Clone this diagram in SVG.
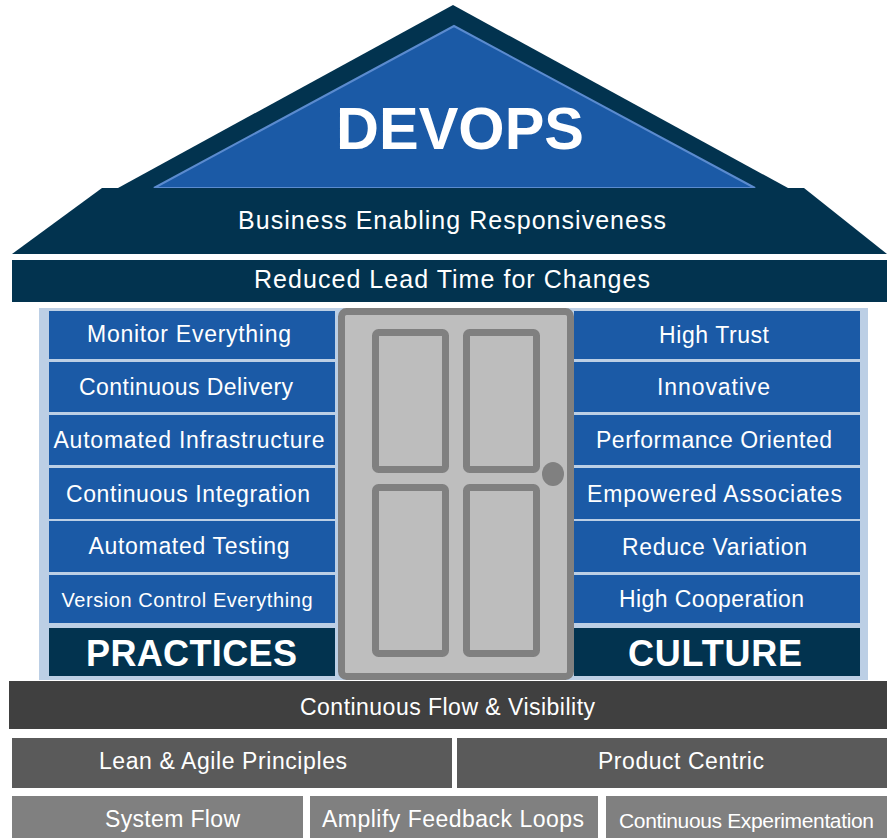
<svg xmlns="http://www.w3.org/2000/svg" width="887" height="838" viewBox="0 0 887 838">
<style>
text{font-family:"Liberation Sans",Arial,sans-serif;fill:#fff;text-anchor:middle}
.navy{fill:#02334f}
.blue{fill:#1b5aa6}
.t{font-size:23px}
.b{font-weight:bold}
.pan{fill:#bdbdbd;stroke:#808080;stroke-width:7}
.g1{fill:#404040}.g2{fill:#5a5a5a}.g3{fill:#808080}
</style>
<rect width="887" height="838" fill="#fff"/>
<g id="roof">
<polygon class="navy" points="453,5 118,188 788,188"/>
<polygon points="454,26 154,188 755,188" fill="#1b5aa6" stroke="#5b8bcf" stroke-width="2"/>
<text class="b" x="460" y="149" font-size="60" textLength="248" lengthAdjust="spacingAndGlyphs">DEVOPS</text>
</g>
<g id="business">
<polygon class="navy" points="102,188 804,188 887,254 12,254"/>
<text x="452" y="229" font-size="25" textLength="428">Business Enabling Responsiveness</text>
</g>
<g id="leadtime">
<rect class="navy" x="12" y="260" width="875" height="42"/>
<text x="452" y="288" font-size="25" textLength="396">Reduced Lead Time for Changes</text>
</g>
<rect id="panel" x="39" y="308" width="829" height="372" fill="#bccfe5"/>
<g id="practices">
<rect class="blue" x="49" y="311" width="286" height="48"/>
<text class="t" x="189" y="342" textLength="204">Monitor Everything</text>
<rect class="blue" x="49" y="362" width="286" height="50"/>
<text class="t" x="186" y="395" textLength="214">Continuous Delivery</text>
<rect class="blue" x="49" y="415" width="286" height="50"/>
<text class="t" x="189" y="448" textLength="271">Automated Infrastructure</text>
<rect class="blue" x="49" y="468" width="286" height="51"/>
<text class="t" x="188" y="502" textLength="244">Continuous Integration</text>
<rect class="blue" x="49" y="521" width="286" height="51"/>
<text class="t" x="189" y="554" textLength="201">Automated Testing</text>
<rect class="blue" x="49" y="575" width="286" height="48"/>
<text x="187" y="607" font-size="20" textLength="251">Version  Control  Everything</text>
<rect class="navy" x="49" y="628" width="286" height="48"/>
<text class="b" x="191.5" y="666" font-size="36" textLength="211">PRACTICES</text>
</g>
<g id="culture">
<rect class="blue" x="574" y="311" width="286" height="48"/>
<text class="t" x="714" y="343" textLength="110">High Trust</text>
<rect class="blue" x="574" y="362" width="286" height="50"/>
<text class="t" x="713.5" y="395" textLength="113">Innovative</text>
<rect class="blue" x="574" y="415" width="286" height="50"/>
<text class="t" x="714" y="448" textLength="236">Performance Oriented</text>
<rect class="blue" x="574" y="468" width="286" height="51"/>
<text class="t" x="714.5" y="502" textLength="255">Empowered  Associates</text>
<rect class="blue" x="574" y="521" width="286" height="51"/>
<text class="t" x="714.5" y="555" textLength="185">Reduce Variation</text>
<rect class="blue" x="574" y="575" width="286" height="48"/>
<text class="t" x="711.5" y="607" textLength="185">High Cooperation</text>
<rect class="navy" x="574" y="628" width="286" height="48"/>
<text class="b" x="715" y="666" font-size="36" textLength="174">CULTURE</text>
</g>
<g id="door">
<rect x="341.5" y="311.5" width="229" height="365" rx="5" fill="#bebebe" stroke="#808080" stroke-width="7"/>
<rect class="pan" x="375.5" y="332.5" width="70" height="137" rx="3"/>
<rect class="pan" x="466.5" y="332.5" width="70" height="137" rx="3"/>
<rect class="pan" x="375.5" y="487.5" width="70" height="166" rx="3"/>
<rect class="pan" x="466.5" y="487.5" width="70" height="166" rx="3"/>
<ellipse cx="553" cy="474" rx="11" ry="12" fill="#808080"/>
</g>
<g id="flow">
<rect class="g1" x="9" y="681" width="878" height="48"/>
<text x="447.5" y="715" font-size="23" textLength="295">Continuous Flow &amp; Visibility</text>
</g>
<g id="lean">
<rect class="g2" x="12" y="738" width="440" height="50"/>
<text x="223" y="769" font-size="23" textLength="248">Lean &amp; Agile Principles</text>
</g>
<g id="product">
<rect class="g2" x="457" y="738" width="430" height="50"/>
<text x="681" y="769" font-size="23" textLength="166">Product Centric</text>
</g>
<g id="systemflow">
<rect class="g3" x="12" y="796" width="291" height="42"/>
<text x="172.5" y="827" font-size="23" textLength="135">System Flow</text>
</g>
<g id="feedback">
<rect class="g3" x="310" y="796" width="288" height="42"/>
<text x="453" y="827" font-size="23" textLength="262">Amplify Feedback Loops</text>
</g>
<g id="experimentation">
<rect class="g3" x="606" y="796" width="281" height="42"/>
<text x="746.5" y="828" font-size="21" textLength="255">Continuous  Experimentation</text>
</g>
<g id="connectors"/>
</svg>
